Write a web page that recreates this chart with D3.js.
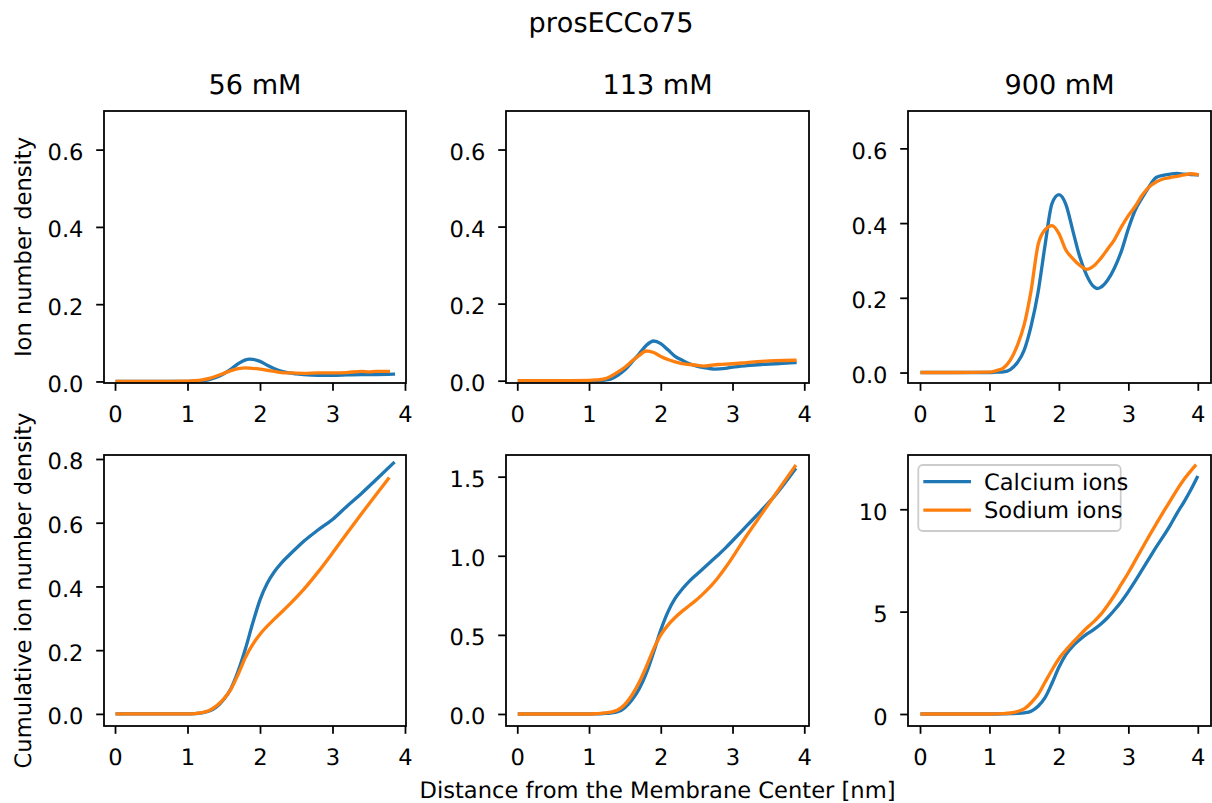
<!DOCTYPE html>
<html>
<head>
<meta charset="utf-8">
<script src="https://cdnjs.cloudflare.com/ajax/libs/d3/7.8.5/d3.min.js"></script>
<style>
  body { margin: 0; background: #fff; }
  svg { font-family: "DejaVu Sans", sans-serif; font-kerning: none; text-rendering: geometricPrecision; }
</style>
</head>
<body>
<svg id="chart" width="1212" height="803"></svg>
<script>

// ---- data ----
var figTitle = "prosECCo75";
var concentrations = ["56 mM", "113 mM", "900 mM"];
var seriesNames = ["Calcium ions", "Sodium ions"];
var xLabel = "Distance from the Membrane Center [nm]";
var rowLabels = ["Ion number density", "Cumulative ion number density"];

var xTicks = [0, 1, 2, 3, 4];
var densTicks = [0, 0.2, 0.4, 0.6];
var cumTicks = [[0, 0.2, 0.4, 0.6, 0.8], [0, 0.5, 1.0, 1.5], [0, 5, 10]];

// axis limits per column
var xLimits = [[-0.152, 4.014], [-0.157, 4.066], [-0.173, 4.19]];
var densLimits = [[-0.004, 0.7], [-0.006, 0.7], [-0.028, 0.7]];
var cumLimits = [[-0.038, 0.8125], [-0.076, 1.637], [-0.586, 12.65]];

// [distance nm, value]
var dens56Ca = [[0.03,0],[0.5,0],[1.0,0],[1.1,0.001],[1.2,0.002],[1.3,0.005],[1.4,0.011],[1.5,0.02],[1.6,0.032],[1.7,0.046],[1.8,0.056],[1.85,0.058],[1.9,0.057],[2.0,0.052],[2.1,0.042],[2.2,0.033],[2.3,0.026],[2.4,0.022],[2.5,0.02],[2.6,0.018],[2.8,0.016],[3.0,0.016],[3.2,0.017],[3.4,0.018],[3.6,0.018],[3.84,0.019]];
var dens56Na = [[0.03,0],[0.5,0],[1.0,0.001],[1.1,0.002],[1.2,0.004],[1.3,0.008],[1.4,0.014],[1.5,0.021],[1.6,0.028],[1.7,0.033],[1.8,0.035],[1.9,0.034],[2.0,0.032],[2.1,0.029],[2.2,0.026],[2.3,0.023],[2.4,0.022],[2.6,0.021],[2.8,0.022],[3.0,0.022],[3.2,0.023],[3.4,0.026],[3.5,0.025],[3.6,0.026],[3.77,0.026]];

var dens113Ca = [[0.03,0],[0.5,0],[1.0,0],[1.1,0],[1.2,0.001],[1.3,0.004],[1.4,0.014],[1.5,0.028],[1.6,0.049],[1.7,0.07],[1.8,0.092],[1.9,0.103],[2.0,0.096],[2.1,0.08],[2.2,0.063],[2.3,0.053],[2.4,0.044],[2.5,0.038],[2.6,0.034],[2.75,0.030],[2.9,0.032],[3.0,0.035],[3.2,0.039],[3.4,0.042],[3.6,0.044],[3.87,0.047]];
var dens113Na = [[0.03,0],[0.5,0],[1.0,0.001],[1.1,0.002],[1.2,0.004],[1.3,0.011],[1.4,0.022],[1.5,0.035],[1.6,0.051],[1.7,0.066],[1.8,0.077],[1.9,0.073],[2.0,0.063],[2.1,0.055],[2.2,0.049],[2.3,0.044],[2.4,0.042],[2.5,0.040],[2.6,0.038],[2.8,0.042],[3.0,0.044],[3.2,0.047],[3.4,0.050],[3.6,0.052],[3.87,0.053]];

var dens900Ca = [[0.03,0],[0.5,0],[1.0,0],[1.1,0.001],[1.2,0.002],[1.3,0.008],[1.4,0.026],[1.5,0.06],[1.6,0.125],[1.7,0.215],[1.8,0.34],[1.9,0.452],[2.0,0.476],[2.1,0.45],[2.2,0.38],[2.3,0.31],[2.4,0.26],[2.5,0.23],[2.55,0.225],[2.6,0.228],[2.7,0.247],[2.8,0.28],[2.9,0.325],[3.0,0.385],[3.1,0.435],[3.2,0.468],[3.3,0.498],[3.4,0.522],[3.5,0.528],[3.6,0.531],[3.7,0.533],[3.8,0.531],[3.9,0.53],[3.99,0.529]];
var dens900Na = [[0.03,0],[0.5,0],[1.0,0.001],[1.1,0.005],[1.2,0.012],[1.3,0.033],[1.4,0.072],[1.5,0.128],[1.6,0.22],[1.7,0.342],[1.8,0.382],[1.9,0.393],[2.0,0.372],[2.1,0.328],[2.2,0.305],[2.3,0.287],[2.4,0.276],[2.5,0.285],[2.6,0.305],[2.7,0.33],[2.8,0.356],[2.9,0.39],[3.0,0.42],[3.1,0.445],[3.2,0.475],[3.3,0.497],[3.4,0.51],[3.5,0.518],[3.6,0.522],[3.7,0.525],[3.8,0.529],[3.9,0.532],[3.99,0.53]];

var cum56Ca = [[0.03,0],[0.5,0],[1.0,0],[1.1,0.001],[1.2,0.003],[1.3,0.009],[1.4,0.022],[1.5,0.045],[1.6,0.08],[1.7,0.135],[1.8,0.205],[1.9,0.285],[2.0,0.358],[2.1,0.41],[2.2,0.447],[2.3,0.475],[2.4,0.498],[2.5,0.52],[2.6,0.541],[2.8,0.577],[3.0,0.61],[3.2,0.652],[3.4,0.692],[3.6,0.735],[3.84,0.787]];
var cum56Na = [[0.03,0],[0.5,0],[1.0,0],[1.1,0.001],[1.2,0.004],[1.3,0.011],[1.4,0.025],[1.5,0.047],[1.6,0.078],[1.7,0.125],[1.8,0.178],[1.9,0.218],[2.0,0.25],[2.2,0.298],[2.4,0.342],[2.6,0.39],[2.8,0.445],[3.0,0.505],[3.2,0.567],[3.4,0.628],[3.6,0.688],[3.77,0.738]];

var cum113Ca = [[0.03,0],[0.5,0],[1.0,0],[1.1,0.001],[1.2,0.003],[1.3,0.006],[1.4,0.014],[1.5,0.04],[1.6,0.09],[1.7,0.16],[1.8,0.26],[1.9,0.39],[2.0,0.53],[2.1,0.645],[2.2,0.73],[2.3,0.79],[2.4,0.84],[2.5,0.882],[2.6,0.923],[2.7,0.964],[2.8,1.005],[2.9,1.048],[3.0,1.095],[3.2,1.19],[3.4,1.285],[3.6,1.385],[3.87,1.545]];
var cum113Na = [[0.03,0],[0.5,0],[1.0,0],[1.1,0.002],[1.2,0.005],[1.3,0.012],[1.4,0.025],[1.5,0.06],[1.6,0.12],[1.7,0.2],[1.8,0.3],[1.9,0.41],[2.0,0.5],[2.1,0.562],[2.2,0.61],[2.3,0.65],[2.4,0.686],[2.5,0.722],[2.6,0.764],[2.7,0.81],[2.8,0.863],[2.9,0.924],[3.0,0.99],[3.2,1.13],[3.4,1.26],[3.6,1.39],[3.87,1.565]];

var cum900Ca = [[0.03,0],[0.5,0],[1.0,0],[1.2,0.01],[1.3,0.02],[1.4,0.03],[1.5,0.06],[1.6,0.14],[1.7,0.38],[1.8,0.8],[1.9,1.5],[2.0,2.28],[2.1,2.9],[2.2,3.32],[2.3,3.63],[2.4,3.9],[2.5,4.12],[2.6,4.38],[2.7,4.7],[2.8,5.08],[2.9,5.5],[3.0,5.98],[3.1,6.5],[3.2,7.05],[3.3,7.6],[3.4,8.15],[3.5,8.66],[3.6,9.2],[3.7,9.8],[3.8,10.35],[3.9,10.95],[3.99,11.55]];
var cum900Na = [[0.03,0],[0.5,0],[1.0,0],[1.2,0.02],[1.3,0.05],[1.4,0.12],[1.5,0.25],[1.6,0.55],[1.7,0.95],[1.8,1.55],[1.9,2.15],[2.0,2.7],[2.1,3.12],[2.2,3.5],[2.3,3.85],[2.4,4.2],[2.5,4.5],[2.6,4.85],[2.7,5.3],[2.8,5.8],[2.9,6.35],[3.0,6.9],[3.1,7.5],[3.2,8.1],[3.3,8.7],[3.4,9.28],[3.5,9.85],[3.6,10.4],[3.7,10.95],[3.8,11.45],[3.96,12.12]];

var densData = [[dens56Ca, dens56Na], [dens113Ca, dens113Na], [dens900Ca, dens900Na]];
var cumData = [[cum56Ca, cum56Na], [cum113Ca, cum113Na], [cum900Ca, cum900Na]];

// ---- layout ----
var colors = ["#1f77b4", "#ff7f0e"];
var colX = [[104, 406], [506, 809], [908, 1211]];
var rowY = [[111, 383], [455, 726]];
var fontSize = 22.6, titleSize = 27.1;
var lineW = 3.33, spineW = 1.78, tickLen = 7.8;

var svg = d3.select("#chart");

svg.append("text")
    .attr("x", 611).attr("y", 32)
    .attr("text-anchor", "middle")
    .style("font-size", titleSize + "px")
    .text(figTitle);

function drawPanel(row, col) {
  var left = colX[col][0], right = colX[col][1];
  var top = rowY[row][0], bottom = rowY[row][1];

  var x = d3.scaleLinear().domain(xLimits[col]).range([left, right]);
  var y = d3.scaleLinear()
      .domain(row == 0 ? densLimits[col] : cumLimits[col])
      .range([bottom, top]);

  var yTicks = row == 0 ? densTicks : cumTicks[col];
  var yFmt = (row == 1 && col == 2) ? d3.format("d") : d3.format(".1f");

  var g = svg.append("g");

  // lines
  var line = d3.line()
      .x(function(d) { return x(d[0]); })
      .y(function(d) { return y(d[1]); })
      .curve(d3.curveMonotoneX);

  var series = row == 0 ? densData[col] : cumData[col];
  series.forEach(function(s, i) {
    g.append("path")
        .datum(s)
        .attr("d", line)
        .attr("fill", "none")
        .attr("stroke", colors[i])
        .attr("stroke-width", lineW)
        .attr("stroke-linecap", "square")
        .attr("stroke-linejoin", "round");
  });

  // x axis
  var xa = g.append("g")
      .attr("transform", "translate(0," + bottom + ")")
      .call(d3.axisBottom(x).tickValues(xTicks).tickSize(tickLen).tickFormat(d3.format("d")));
  xa.select(".domain").remove();
  xa.selectAll("line").attr("stroke", "#000").attr("stroke-width", spineW);
  xa.selectAll("text")
      .attr("y", 38.5).attr("dy", null)
      .attr("fill", "#000")
      .style("font-size", fontSize + "px")
      .style("font-family", "DejaVu Sans");

  // y axis
  var ya = g.append("g")
      .attr("transform", "translate(" + left + ",0)")
      .call(d3.axisLeft(y).tickValues(yTicks).tickSize(tickLen).tickFormat(yFmt));
  ya.select(".domain").remove();
  ya.selectAll("line").attr("stroke", "#000").attr("stroke-width", spineW);
  ya.selectAll("text")
      .attr("x", -20.5).attr("dy", "10px")
      .attr("fill", "#000")
      .style("font-size", fontSize + "px")
      .style("font-family", "DejaVu Sans");

  // frame
  g.append("rect")
      .attr("x", left).attr("y", top)
      .attr("width", right - left).attr("height", bottom - top)
      .attr("fill", "none")
      .attr("stroke", "#000")
      .attr("stroke-width", spineW);

  if (row == 0) {
    g.append("text")
        .attr("x", (left + right) / 2).attr("y", 94)
        .attr("text-anchor", "middle")
        .style("font-size", titleSize + "px")
        .text(concentrations[col]);
  }

  if (col == 0) {
    g.append("text")
        .attr("transform", "translate(31," + ((top + bottom) / 2) + ") rotate(-90)")
        .attr("text-anchor", "middle")
        .style("font-size", fontSize + "px")
        .text(rowLabels[row]);
  }

  if (row == 1 && col == 1) {
    g.append("text")
        .attr("x", (left + right) / 2).attr("y", 797.5)
        .attr("text-anchor", "middle")
        .style("font-size", fontSize + "px")
        .text(xLabel);
  }

  // legend only in the last panel
  if (row == 1 && col == 2) {
    var lg = g.append("g").attr("transform", "translate(" + left + "," + top + ")");
    lg.append("rect")
        .attr("x", 10.3).attr("y", 10)
        .attr("width", 202.4).attr("height", 66)
        .attr("rx", 4.4).attr("ry", 4.4)
        .attr("fill", "#fff").attr("fill-opacity", 0.8)
        .attr("stroke", "#cccccc").attr("stroke-width", spineW);
    seriesNames.forEach(function(name, i) {
      var cy = 26.7 + i * 28.5;
      lg.append("line")
          .attr("x1", 17).attr("x2", 61.3)
          .attr("y1", cy).attr("y2", cy)
          .attr("stroke", colors[i])
          .attr("stroke-width", lineW)
          .attr("stroke-linecap", "square");
      lg.append("text")
          .attr("x", 76).attr("y", cy + 7.8)
          .style("font-size", fontSize + "px")
          .text(name);
    });
  }
}

for (var r = 0; r < 2; r++) {
  for (var c = 0; c < 3; c++) {
    drawPanel(r, c);
  }
}

</script>
</body>
</html>
